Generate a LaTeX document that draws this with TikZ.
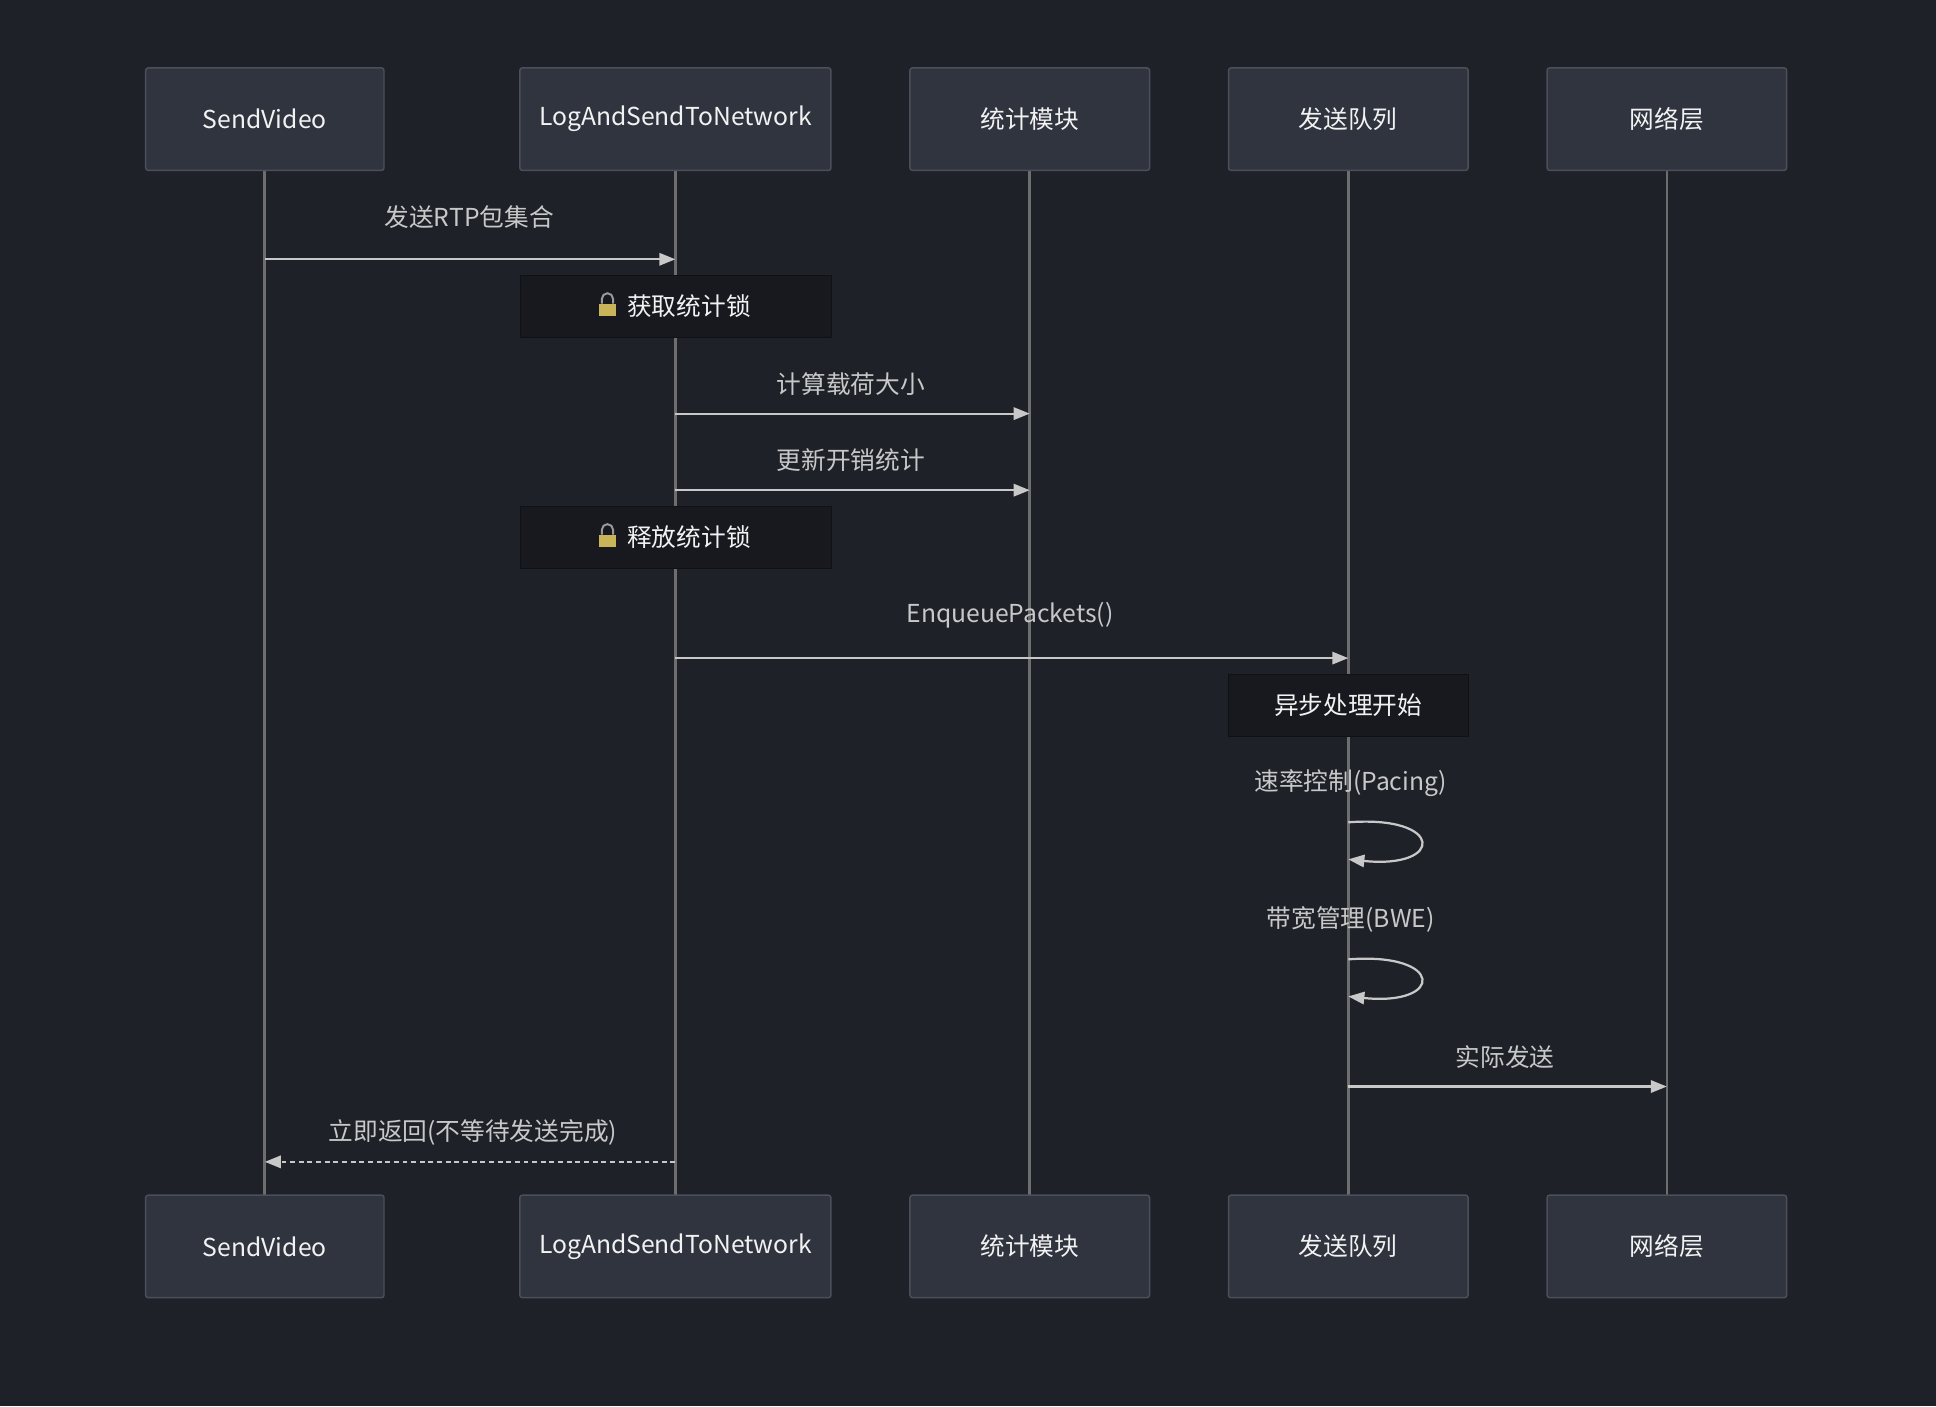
\documentclass[tikz,border=0pt]{standalone}
\usepackage{fontspec}
\setmainfont{Noto Sans CJK SC}
\usetikzlibrary{arrows.meta}
\definecolor{bg}{HTML}{1F2129}
\definecolor{boxfill}{HTML}{30343F}
\definecolor{boxline}{HTML}{4B4F5A}
\definecolor{notefill}{HTML}{17191E}
\definecolor{txt}{HTML}{F2F2F2}
\definecolor{msg}{HTML}{C8C8C8}
\definecolor{lifeline}{HTML}{6E6E6E}
\definecolor{lockbody}{HTML}{C9B45A}
\tikzset{
  actor/.style={draw=boxline,line width=1.2pt,fill=boxfill,rounded corners=2pt,minimum height=83pt,text=txt,font=\fontsize{20}{24}\selectfont},
  note/.style={draw=notefill!70!black,fill=notefill,minimum height=50pt,text=txt,font=\fontsize{20}{24}\selectfont},
  label/.style={text=msg,font=\fontsize{20}{24}\selectfont},
  call/.style={msg,line width=1.8pt,-{Triangle[length=13pt,width=10pt]}},
  reply/.style={call,dash pattern=on 4pt off 3pt},
  life/.style={lifeline,line width=2.2pt}
}
\newcommand{\lockicon}[1]{%
  \fill[lockbody] ($(#1)+(-7pt,-7pt)$) rectangle ($(#1)+(7pt,3pt)$);
  \draw[gray!80,line width=1.6pt] ($(#1)+(-4.5pt,3pt)$) -- ++(0,4pt) arc(180:0:4.5pt) -- ++(0,-4pt);
}
\usetikzlibrary{calc}
\begin{document}
\begin{tikzpicture}[x=1pt,y=-1pt]
  \fill[bg] (0,0) rectangle (1568,1139);
  \useasboundingbox (0,0) rectangle (1568,1139);
  % lifelines
  \foreach \n/\x/\w/\t in {sv/214.5/193/SendVideo,log/547/252/LogAndSendToNetwork,stat/834/194/统计模块,queue/1092/194/发送队列,net/1350/194/网络层}{
    \draw[life] (\x,138) -- (\x,968);
    \node[actor,minimum width=\w pt] (\n top) at (\x,96.5) {\t};
    \node[actor,minimum width=\w pt] (\n bot) at (\x,1009.5) {\t};
  }
  % messages
  \coordinate (m1a) at (214.5,210); \coordinate (m1b) at (547,210);
  \node[label] (l1) at (380,176) {发送RTP包集合};
  \draw[call] (m1a) -- (m1b);

  \node[note,minimum width=252pt] (n1) at (547,248) {\hspace{22pt}获取统计锁};
  \lockicon{492,249}

  \coordinate (m2a) at (547,335); \coordinate (m2b) at (834,335);
  \node[label] (l2) at (689,311) {计算载荷大小};
  \draw[call] (m2a) -- (m2b);

  \coordinate (m3a) at (547,397); \coordinate (m3b) at (834,397);
  \node[label] (l3) at (689,373) {更新开销统计};
  \draw[call] (m3a) -- (m3b);

  \node[note,minimum width=252pt] (n2) at (547,435) {\hspace{22pt}释放统计锁};
  \lockicon{492,436}

  \coordinate (m4a) at (547,533); \coordinate (m4b) at (1092,533);
  \node[label] (l4) at (818,498) {EnqueuePackets()};
  \draw[call] (m4a) -- (m4b);

  \node[note,minimum width=194pt] (n3) at (1092,571) {异步处理开始};

  \coordinate (s1a) at (1092,666); \coordinate (s1b) at (1092,696);
  \node[label] (l5) at (1094,634) {速率控制(Pacing)};
  \draw[call] (s1a) .. controls (1170,660) and (1170,704) .. (s1b);

  \coordinate (s2a) at (1092,777); \coordinate (s2b) at (1092,807);
  \node[label] (l6) at (1094,745) {带宽管理(BWE)};
  \draw[call] (s2a) .. controls (1170,771) and (1170,815) .. (s2b);

  \coordinate (m5a) at (1092,880); \coordinate (m5b) at (1350,880);
  \node[label] (l7) at (1219,856) {实际发送};
  \draw[call] (m5a) -- (m5b);

  \coordinate (m6a) at (547,941); \coordinate (m6b) at (214.5,941);
  \node[label] (l8) at (383,917) {立即返回(不等待发送完成)};
  \draw[reply] (m6a) -- (m6b);
\end{tikzpicture}
\end{document}
